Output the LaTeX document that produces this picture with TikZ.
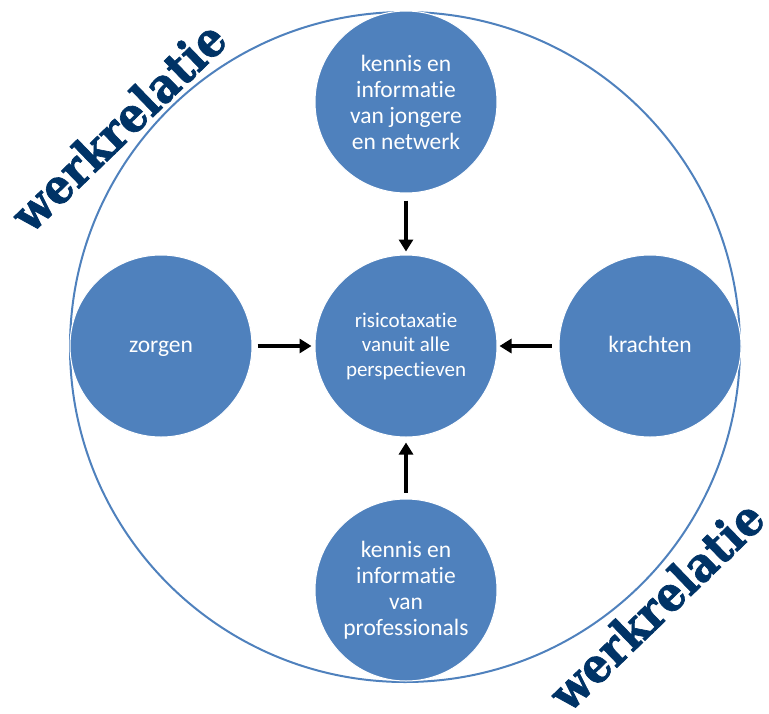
\documentclass[tikz,border=0pt]{standalone}
\usepackage{graphicx}
\usepackage{fontspec}
\setmainfont{Carlito}[Ligatures={NoCommon,NoContextual}]
\newfontfamily\slabfont{DejaVu Serif}[FakeBold=1.5]
\usetikzlibrary{arrows.meta}
\definecolor{cblue}{HTML}{4F81BD}
\definecolor{navy}{HTML}{003366}
\newcommand{\tI}{t\kern0pt i}
\begin{document}
\begin{tikzpicture}[x=1pt,y=-1pt,
  blob/.style={circle, minimum size=182pt, inner sep=0pt, fill=cblue, draw=white, line width=1pt,
    text=white, align=center, font=\fontsize{23.5}{26}\selectfont},
  arr/.style={line width=3.5pt, -{Triangle[length=12pt,width=14pt]}},
  wk/.style={text=navy, rotate=44, inner sep=0pt}]
\useasboundingbox (0,0) rectangle (769,713);
\draw[cblue, line width=2pt] (405,347) circle[radius=335pt];
\node[blob] (top) at (406,102) {kennis en\\informa\tI e\\van jongere\\en netwerk};
\node[blob, font=\fontsize{21}{24.5}\selectfont] (mid) at (406,346) {risicotaxa\tI e\\vanuit alle\\perspec\tI even};
\node[blob] (bot) at (406,590) {kennis en\\informa\tI e\\van\\professionals};
\node[blob] (lft) at (161,346) {zorgen\vphantom{k}};
\node[blob] (rgt) at (650,346) {krachten\vphantom{g}};
\draw[arr, shorten <=7pt, shorten >=3pt] (top) -- (mid);
\draw[arr, shorten <=5pt, shorten >=3pt] (lft) -- (mid);
\draw[arr, shorten <=7pt, shorten >=2pt] (rgt) -- (mid);
\draw[arr, shorten <=6pt, shorten >=5pt] (bot) -- (mid);
\node[wk] (w1) at (118,126) {\scalebox{0.9}[1]{\slabfont\bfseries\fontsize{48}{48}\selectfont werkrela\tI e}};
\node[wk] (w2) at (656,605) {\scalebox{0.9}[1]{\slabfont\bfseries\fontsize{48}{48}\selectfont werkrela\tI e}};
\end{tikzpicture}
\end{document}
